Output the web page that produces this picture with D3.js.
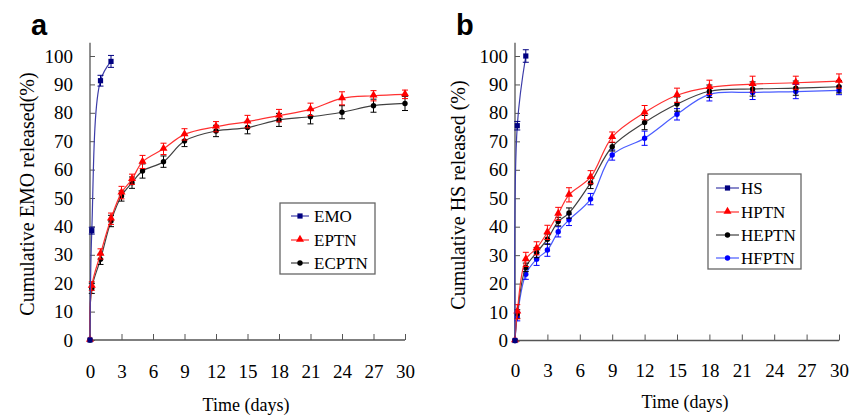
<!DOCTYPE html>
<html lang="en">
	<head>
		<meta charset="utf-8">
		<title>Cumulative release</title>
		<script src="https://d3js.org/d3.v7.min.js"></script>
		<style>
			body { margin: 0; background: #fff; }
			text { font-family: "Liberation Serif", "Times New Roman", serif; }
		</style>
	</head>
	<body>
		<div id="chart"></div>
		<script>
// ---- data ----
var xTicks = [0, 3, 6, 9, 12, 15, 18, 21, 24, 27, 30]
var yTicks = [0, 10, 20, 30, 40, 50, 60, 70, 80, 90, 100]

// panel a
var timeEMO = [0, 0.17, 1, 2]
var emo     = [0, 38.5, 91.3, 98.1]
var emoErr  = [0, 1.2, 1.9, 2.1]
var timeA   = [0, 0.17, 1, 2, 3, 4, 5, 7, 9, 12, 15, 18, 21, 24, 27, 30]
var eptn    = [0, 19.0, 30.3, 42.7, 51.9, 56.6, 62.7, 67.3, 72.4, 75.1, 76.9, 79.0, 81.2, 85.1, 86.0, 86.5]
var eptnErr = [0, 1.5, 1.8, 2.0, 2.2, 1.8, 2.3, 2.0, 2.0, 1.8, 2.2, 2.2, 2.2, 2.3, 1.8, 1.5]
var ecptn   = [0, 18.2, 28.4, 41.9, 50.7, 55.4, 59.5, 62.8, 70.1, 73.6, 74.8, 77.5, 78.6, 80.2, 82.5, 83.3]
var ecptnErr = [0, 1.8, 1.8, 2.0, 1.8, 2.0, 2.5, 2.0, 2.0, 2.0, 2.2, 2.3, 2.5, 2.3, 2.3, 2.5]

// panel b
var timeHS  = [0, 0.21, 1]
var hs      = [0, 75.5, 100]
var hsErr   = [0, 1.5, 2.2]
var timeB   = [0, 0.21, 1, 2, 3, 4, 5, 7, 9, 12, 15, 18, 22, 26, 30]
var hptn    = [0, 10.1, 28.5, 32.4, 38.0, 44.5, 51.2, 57.4, 71.5, 80.1, 86.2, 89.0, 90.1, 90.6, 91.2]
var hptnErr = [0, 2.5, 2.5, 2.3, 2.5, 2.3, 2.5, 2.3, 1.8, 2.5, 2.5, 2.5, 2.8, 2.3, 2.5]
var heptn   = [0, 9.3, 25.7, 30.9, 35.6, 41.8, 44.8, 55.4, 68.1, 76.6, 83.1, 87.6, 88.4, 88.7, 89.2]
var heptnErr = [0, 1.5, 1.5, 1.8, 1.8, 1.5, 1.8, 2.0, 1.5, 2.5, 2.5, 2.2, 2.5, 2.5, 2.2]
var hfptn   = [0, 8.4, 23.3, 28.6, 31.8, 38.2, 42.4, 49.7, 65.2, 71.1, 79.5, 86.5, 87.2, 87.5, 87.9]
var hfptnErr = [0, 1.5, 1.8, 2.2, 2.2, 1.8, 2.0, 2.0, 1.8, 2.5, 2.0, 2.3, 2.5, 2.5, 1.5]

// series styles
var styles = {
  EMO:   {line: "#3c3ca8", mark: "#000080", shape: "square"},
  HS:    {line: "#3c3ca8", mark: "#000080", shape: "square"},
  EPTN:  {line: "#ff3030", mark: "#ff0000", shape: "triangle"},
  HPTN:  {line: "#ff3030", mark: "#ff0000", shape: "triangle"},
  ECPTN: {line: "#404040", mark: "#000000", shape: "circle"},
  HEPTN: {line: "#404040", mark: "#000000", shape: "circle"},
  HFPTN: {line: "#4a5cff", mark: "#0000ff", shape: "circle"}
}

function zipSeries(name, t, v, e) {
  return {name: name, pts: t.map(function(d, i) { return {t: d, v: v[i], e: e[i]} })}
}

var panels = [
  {
    letter: "a", letterX: 31, xr: [90, 405], yr: [340, 56], yPad: 17, xPad: 24.5,
    ylabel: "Cumulative EMO released(%)", ylabX: 34, ylabY: 194, xlabX: 246, xlabY: 411,
    legend: {x: 280, y: 203, w: 95, h: 71, rows: [216, 240, 263], lx: [291, 309], tx: 314},
    series: [
      zipSeries("EMO", timeEMO, emo, emoErr),
      zipSeries("EPTN", timeA, eptn, eptnErr),
      zipSeries("ECPTN", timeA, ecptn, ecptnErr)
    ]
  },
  {
    letter: "b", letterX: 456, xr: [515, 839], yr: [340.5, 56], yPad: 7, xPad: 23,
    ylabel: "Cumulative HS released (%)", ylabX: 465, ylabY: 195, xlabX: 685, xlabY: 408,
    legend: {x: 708, y: 174, w: 93, h: 95, rows: [188, 212, 235, 258], lx: [716, 739], tx: 741},
    series: [
      zipSeries("HS", timeHS, hs, hsErr),
      zipSeries("HPTN", timeB, hptn, hptnErr),
      zipSeries("HEPTN", timeB, heptn, heptnErr),
      zipSeries("HFPTN", timeB, hfptn, hfptnErr)
    ]
  }
]

var svg = d3.select("#chart")
  .append("svg")
    .attr("width", 849)
    .attr("height", 415)

svg.append("rect").attr("width", 849).attr("height", 415).attr("fill", "#fff")

// draw one marker of given shape
function marker(g, shape, cx, cy, color) {
  if (shape == "square") {
    g.append("rect").attr("x", cx - 2.6).attr("y", cy - 2.6)
      .attr("width", 5.2).attr("height", 5.2).attr("fill", color)
  } else if (shape == "triangle") {
    g.append("path")
      .attr("d", d3.symbol().type(d3.symbolTriangle).size(28)())
      .attr("transform", "translate(" + cx + "," + (cy - 0.5) + ")")
      .attr("fill", color)
  } else {
    g.append("circle").attr("cx", cx).attr("cy", cy).attr("r", 2.7).attr("fill", color)
  }
}

panels.forEach(function(p) {
  var g = svg.append("g")

  var x = d3.scaleLinear().domain([0, 30]).range(p.xr)
  var y = d3.scaleLinear().domain([0, 100]).range(p.yr)

  // x axis with inward ticks
  var xAxis = g.append("g")
    .attr("transform", "translate(0," + p.yr[0] + ")")
    .call(d3.axisBottom(x).tickValues(xTicks).tickSizeInner(-6).tickSizeOuter(0).tickPadding(p.xPad))
  // y axis with inward ticks
  var yAxis = g.append("g")
    .attr("transform", "translate(" + p.xr[0] + ",0)")
    .call(d3.axisLeft(y).tickValues(yTicks).tickSizeInner(-5).tickSizeOuter(0).tickPadding(p.yPad))

  g.selectAll(".domain").remove()
  g.selectAll("g").attr("font-family", "Liberation Serif")
  g.selectAll(".tick line").attr("stroke", "#555")
  g.selectAll(".tick text")
    .attr("fill", "#000")
    .style("font-family", "Liberation Serif")
    .style("font-size", "19px")

  // axis lines (y runs a bit above 100)
  g.append("line")
    .attr("x1", p.xr[0]).attr("x2", p.xr[1])
    .attr("y1", p.yr[0]).attr("y2", p.yr[0])
    .attr("stroke", "#555").attr("stroke-width", 1.3)
  g.append("line")
    .attr("x1", p.xr[0]).attr("x2", p.xr[0])
    .attr("y1", p.yr[0]).attr("y2", y(104.7))
    .attr("stroke", "#555").attr("stroke-width", 1.3)

  // labels
  g.append("text")
    .attr("text-anchor", "middle")
    .attr("transform", "translate(" + p.ylabX + "," + p.ylabY + ") rotate(-90)")
    .style("font-size", "20px")
    .text(p.ylabel)
  g.append("text")
    .attr("text-anchor", "middle")
    .attr("x", p.xlabX).attr("y", p.xlabY)
    .style("font-size", "18px")
    .text("Time (days)")
  g.append("text")
    .attr("x", p.letterX).attr("y", 35)
    .style("font-family", "Liberation Sans")
    .style("font-weight", "bold")
    .style("font-size", "29px")
    .text(p.letter)

  var line = d3.line()
    .x(function(d) { return x(d.t) })
    .y(function(d) { return y(d.v) })
    .curve(d3.curveCatmullRom.alpha(0.5))

  // draw series: later series on top like the original
  p.series.slice().reverse().forEach(function(s) {
    var st = styles[s.name]
    var sg = g.append("g")
    sg.append("path")
      .attr("d", line(s.pts))
      .attr("fill", "none")
      .attr("stroke", st.line)
      .attr("stroke-width", 1.2)

    // error bars
    s.pts.forEach(function(d) {
      if (!d.e) return
      var cx = x(d.t), y1 = y(d.v - d.e), y2 = y(d.v + d.e)
      sg.append("line").attr("x1", cx).attr("x2", cx).attr("y1", y1).attr("y2", y2)
        .attr("stroke", st.mark).attr("stroke-width", 1)
      sg.append("line").attr("x1", cx - 3).attr("x2", cx + 3).attr("y1", y1).attr("y2", y1)
        .attr("stroke", st.mark).attr("stroke-width", 1)
      sg.append("line").attr("x1", cx - 3).attr("x2", cx + 3).attr("y1", y2).attr("y2", y2)
        .attr("stroke", st.mark).attr("stroke-width", 1)
    })
    s.pts.forEach(function(d) {
      marker(sg, st.shape, x(d.t), y(d.v), st.mark)
    })
  })

  // legend box
  var L = p.legend
  var lg = g.append("g")
  lg.append("rect")
    .attr("x", L.x).attr("y", L.y).attr("width", L.w).attr("height", L.h)
    .attr("fill", "#fff").attr("stroke", "#666").attr("stroke-width", 1.3)
  p.series.forEach(function(s, i) {
    var st = styles[s.name]
    var ry = L.rows[i]
    lg.append("line")
      .attr("x1", L.lx[0]).attr("x2", L.lx[1]).attr("y1", ry).attr("y2", ry)
      .attr("stroke", st.line).attr("stroke-width", 1.2)
    marker(lg, st.shape, (L.lx[0] + L.lx[1]) / 2, ry, st.mark)
    lg.append("text")
      .attr("x", L.tx).attr("y", ry + 6)
      .style("font-size", "17px")
      .text(s.name)
  })
})
		</script>
	</body>
</html>
